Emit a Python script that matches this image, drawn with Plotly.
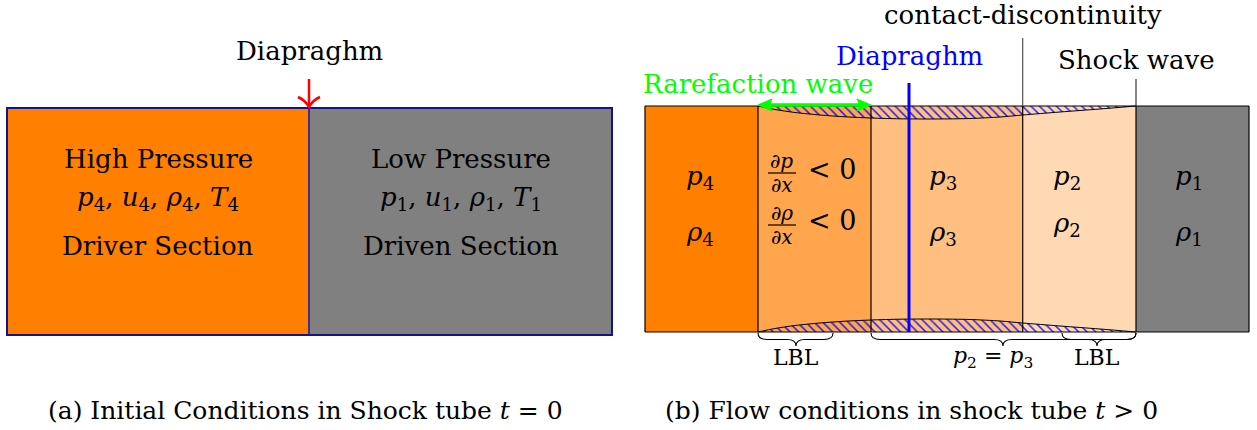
import plotly.graph_objects as go

# ---------------------------------------------------------------------------
# Canvas (pixel-like coordinate system, y grows downward)
W, H = 1257, 430
FONT = "DejaVu Serif"
BASE = 26

# ---------------------------------------------------------------------------
# Panel (a): initial conditions
A_LEFT, A_RIGHT = 7, 612
A_TOP, A_BOTTOM = 108, 335
A_DIAPHRAGM = 309
A_COLORS = ["#FF7F00", "#808080"]
A_TITLES = ["High Pressure", "Low Pressure"]
A_STATES = [
    "<i>p</i><sub>4</sub>, <i>u</i><sub>4</sub>, <i>ρ</i><sub>4</sub>, <i>T</i><sub>4</sub>",
    "<i>p</i><sub>1</sub>, <i>u</i><sub>1</sub>, <i>ρ</i><sub>1</sub>, <i>T</i><sub>1</sub>",
]
A_SECTIONS = ["Driver Section", "Driven Section"]
A_CAPTION = "(a) Initial Conditions in Shock tube <i>t</i> = 0"
A_CAPTION_X = 305

# ---------------------------------------------------------------------------
# Panel (b): flow at t > 0
B_TOP, B_BOTTOM = 106, 332
B_EDGES = [645, 758, 871, 1022.7, 1136, 1249]
B_COLORS = ["#FF7F00", "#FFA54D", "#FFBF80", "#FFD9B3", "#808080"]
B_PRESSURE = ["<i>p</i><sub>4</sub>", None, "<i>p</i><sub>3</sub>", "<i>p</i><sub>2</sub>", "<i>p</i><sub>1</sub>"]
B_DENSITY = ["<i>ρ</i><sub>4</sub>", None, "<i>ρ</i><sub>3</sub>", "<i>ρ</i><sub>2</sub>", "<i>ρ</i><sub>1</sub>"]
B_DIAPHRAGM = 909
CONTACT_TOP, SHOCK_TOP = 38, 79
B_CAPTION = "(b) Flow conditions in shock tube <i>t</i> > 0"
B_CAPTION_X = 911

# boundary-layer thickness along the tube (from rarefaction head to shock)
BL_X = [758, 775, 795, 820, 845, 871, 900, 935, 970, 1000, 1022.7, 1060, 1100, 1136]
BL_T = [0, 3.5, 6.5, 9.0, 10.8, 12.0, 12.8, 13.0, 12.5, 11.0, 9.0, 6.0, 3.0, 0]

# braces under the tube: (start, end, tip, label, label x)
BRACES = [
    (758, 833, 796, "LBL", 796),
    (871, 1136, 1003, "<i>p</i><sub>2</sub> = <i>p</i><sub>3</sub>", 993),
    (1062, 1136, 1097, "LBL", 1097),
]

fig = go.Figure()
shapes, notes = [], []


def text(x, y, s, size=BASE, color="black", **kw):
    notes.append(dict(x=x, y=y, text=s, showarrow=False, xanchor="center",
                      yanchor="middle", font=dict(family=FONT, size=size, color=color), **kw))


def line(x0, y0, x1, y1, color="black", width=1.2, layer="above"):
    shapes.append(dict(type="line", x0=x0, y0=y0, x1=x1, y1=y1, layer=layer,
                       line=dict(color=color, width=width)))


# ---------------------------- panel (a) ------------------------------------
a_bounds = [A_LEFT, A_DIAPHRAGM, A_RIGHT]
for i in range(2):
    x0, x1 = a_bounds[i], a_bounds[i + 1]
    shapes.append(dict(type="rect", x0=x0, x1=x1, y0=A_TOP, y1=A_BOTTOM, layer="below",
                       fillcolor=A_COLORS[i], line=dict(width=0)))
    cx = (x0 + x1) / 2
    text(cx, 159, A_TITLES[i])
    text(cx, 198, A_STATES[i])
    text(cx, 246, A_SECTIONS[i])
shapes.append(dict(type="rect", x0=A_LEFT, x1=A_RIGHT, y0=A_TOP, y1=A_BOTTOM, layer="above",
                   line=dict(color="#14148A", width=2)))
line(A_DIAPHRAGM, A_TOP, A_DIAPHRAGM, A_BOTTOM, color="#1A1AB0", width=1.6)

# diaphragm marker arrow
line(A_DIAPHRAGM, 79, A_DIAPHRAGM, A_TOP - 1, color="#FF0000", width=2.5)
shapes.append(dict(type="path", layer="above",
                   path=f"M {A_DIAPHRAGM - 11},97 Q {A_DIAPHRAGM - 4},100 {A_DIAPHRAGM},{A_TOP - 1} "
                        f"Q {A_DIAPHRAGM + 4},100 {A_DIAPHRAGM + 11},97",
                   line=dict(color="#FF0000", width=2.5)))
text(A_DIAPHRAGM, 51, "Diapraghm")
text(A_CAPTION_X, 410, A_CAPTION, size=25)

# ---------------------------- panel (b) ------------------------------------
for i, c in enumerate(B_COLORS):
    x0, x1 = B_EDGES[i], B_EDGES[i + 1]
    shapes.append(dict(type="rect", x0=x0, x1=x1, y0=B_TOP, y1=B_BOTTOM, layer="below",
                       fillcolor=c, line=dict(width=0)))

# hatched laminar boundary layers at both walls
for wall, sign in ((B_TOP, 1), (B_BOTTOM, -1)):
    fig.add_trace(go.Scatter(
        x=BL_X, y=[wall + sign * t for t in BL_T], mode="lines", fill="toself",
        line=dict(color="black", width=1, shape="spline", smoothing=0.8),
        fillcolor="rgba(0,0,0,0)",
        fillpattern=dict(shape="\\", fgcolor="#0000FF", bgcolor="rgba(0,0,0,0)",
                         fgopacity=0.85, size=6, solidity=0.25),
        hoverinfo="skip", showlegend=False))

# tube outline and wave fronts
line(B_EDGES[0], B_TOP, B_EDGES[-1], B_TOP)
line(B_EDGES[0], B_BOTTOM, B_EDGES[-1], B_BOTTOM)
for xe in B_EDGES:
    line(xe, B_TOP, xe, B_BOTTOM)
line(B_EDGES[3], CONTACT_TOP, B_EDGES[3], B_TOP, color="#555555")
line(B_EDGES[4], SHOCK_TOP, B_EDGES[4], B_TOP, color="#333333")

# burst diaphragm position
line(B_DIAPHRAGM, 83, B_DIAPHRAGM, B_BOTTOM, color="#0000FF", width=3)

# rarefaction fan extent arrow
ry = 105
line(B_EDGES[1] + 8, ry, B_EDGES[2] - 8, ry, color="#00FF00", width=3.5)
for xt, d in ((B_EDGES[1], 1), (B_EDGES[2], -1)):
    shapes.append(dict(type="path", layer="above", fillcolor="#00FF00",
                       path=f"M {xt},{ry} L {xt + d * 14},{ry - 6} Q {xt + d * 10},{ry} {xt + d * 14},{ry + 6} Z",
                       line=dict(color="#00FF00", width=1)))

# state labels
for i in range(5):
    cx = (B_EDGES[i] + B_EDGES[i + 1]) / 2
    if B_PRESSURE[i]:
        dx = {2: -4, 3: -12, 4: -4}.get(i, -2)
        text(cx + dx, 177, B_PRESSURE[i])
        text(cx + dx, 233 if i != 3 else 224, B_DENSITY[i])

# gradient relations in the rarefaction fan
for num, yb, yc in (("∂<i>p</i>", 173, 169), ("∂<i>ρ</i>", 225, 220)):
    text(781.5, yb - 12, num, size=20)
    text(781.5, yb + 12, "∂<i>x</i>", size=20)
    line(768, yb, 796, yb, width=1.2)
    text(832, yc, "&lt; 0", size=27)

text(B_DIAPHRAGM, 56, "Diapraghm", color="#0000FF")
text(758, 84, "Rarefaction wave", color="#00FF00")
text(B_EDGES[3], 15, "contact-discontinuity")
text(1136, 60, "Shock wave")

# braces with labels
for x0, x1, xt, lab, lx in BRACES:
    y0, h, r = 333, 13, 9
    ym = y0 + h / 2
    shapes.append(dict(type="path", layer="above", line=dict(color="black", width=1.1),
                       path=(f"M {x0},{y0} Q {x0},{ym} {x0 + r},{ym} L {xt - r},{ym} "
                             f"Q {xt},{ym} {xt},{y0 + h} Q {xt},{ym} {xt + r},{ym} "
                             f"L {x1 - r},{ym} Q {x1},{ym} {x1},{y0}")))
    text(lx, 357, lab, size=22)

text(B_CAPTION_X, 410, B_CAPTION, size=25)

fig.update_layout(
    width=W, height=H, margin=dict(l=0, r=0, t=0, b=0),
    paper_bgcolor="white", plot_bgcolor="white",
    font=dict(family=FONT),
    xaxis=dict(range=[0, W], visible=False, fixedrange=True),
    yaxis=dict(range=[H, 0], visible=False, fixedrange=True),
    shapes=shapes, annotations=notes, showlegend=False,
)

fig.write_html("out.html")
